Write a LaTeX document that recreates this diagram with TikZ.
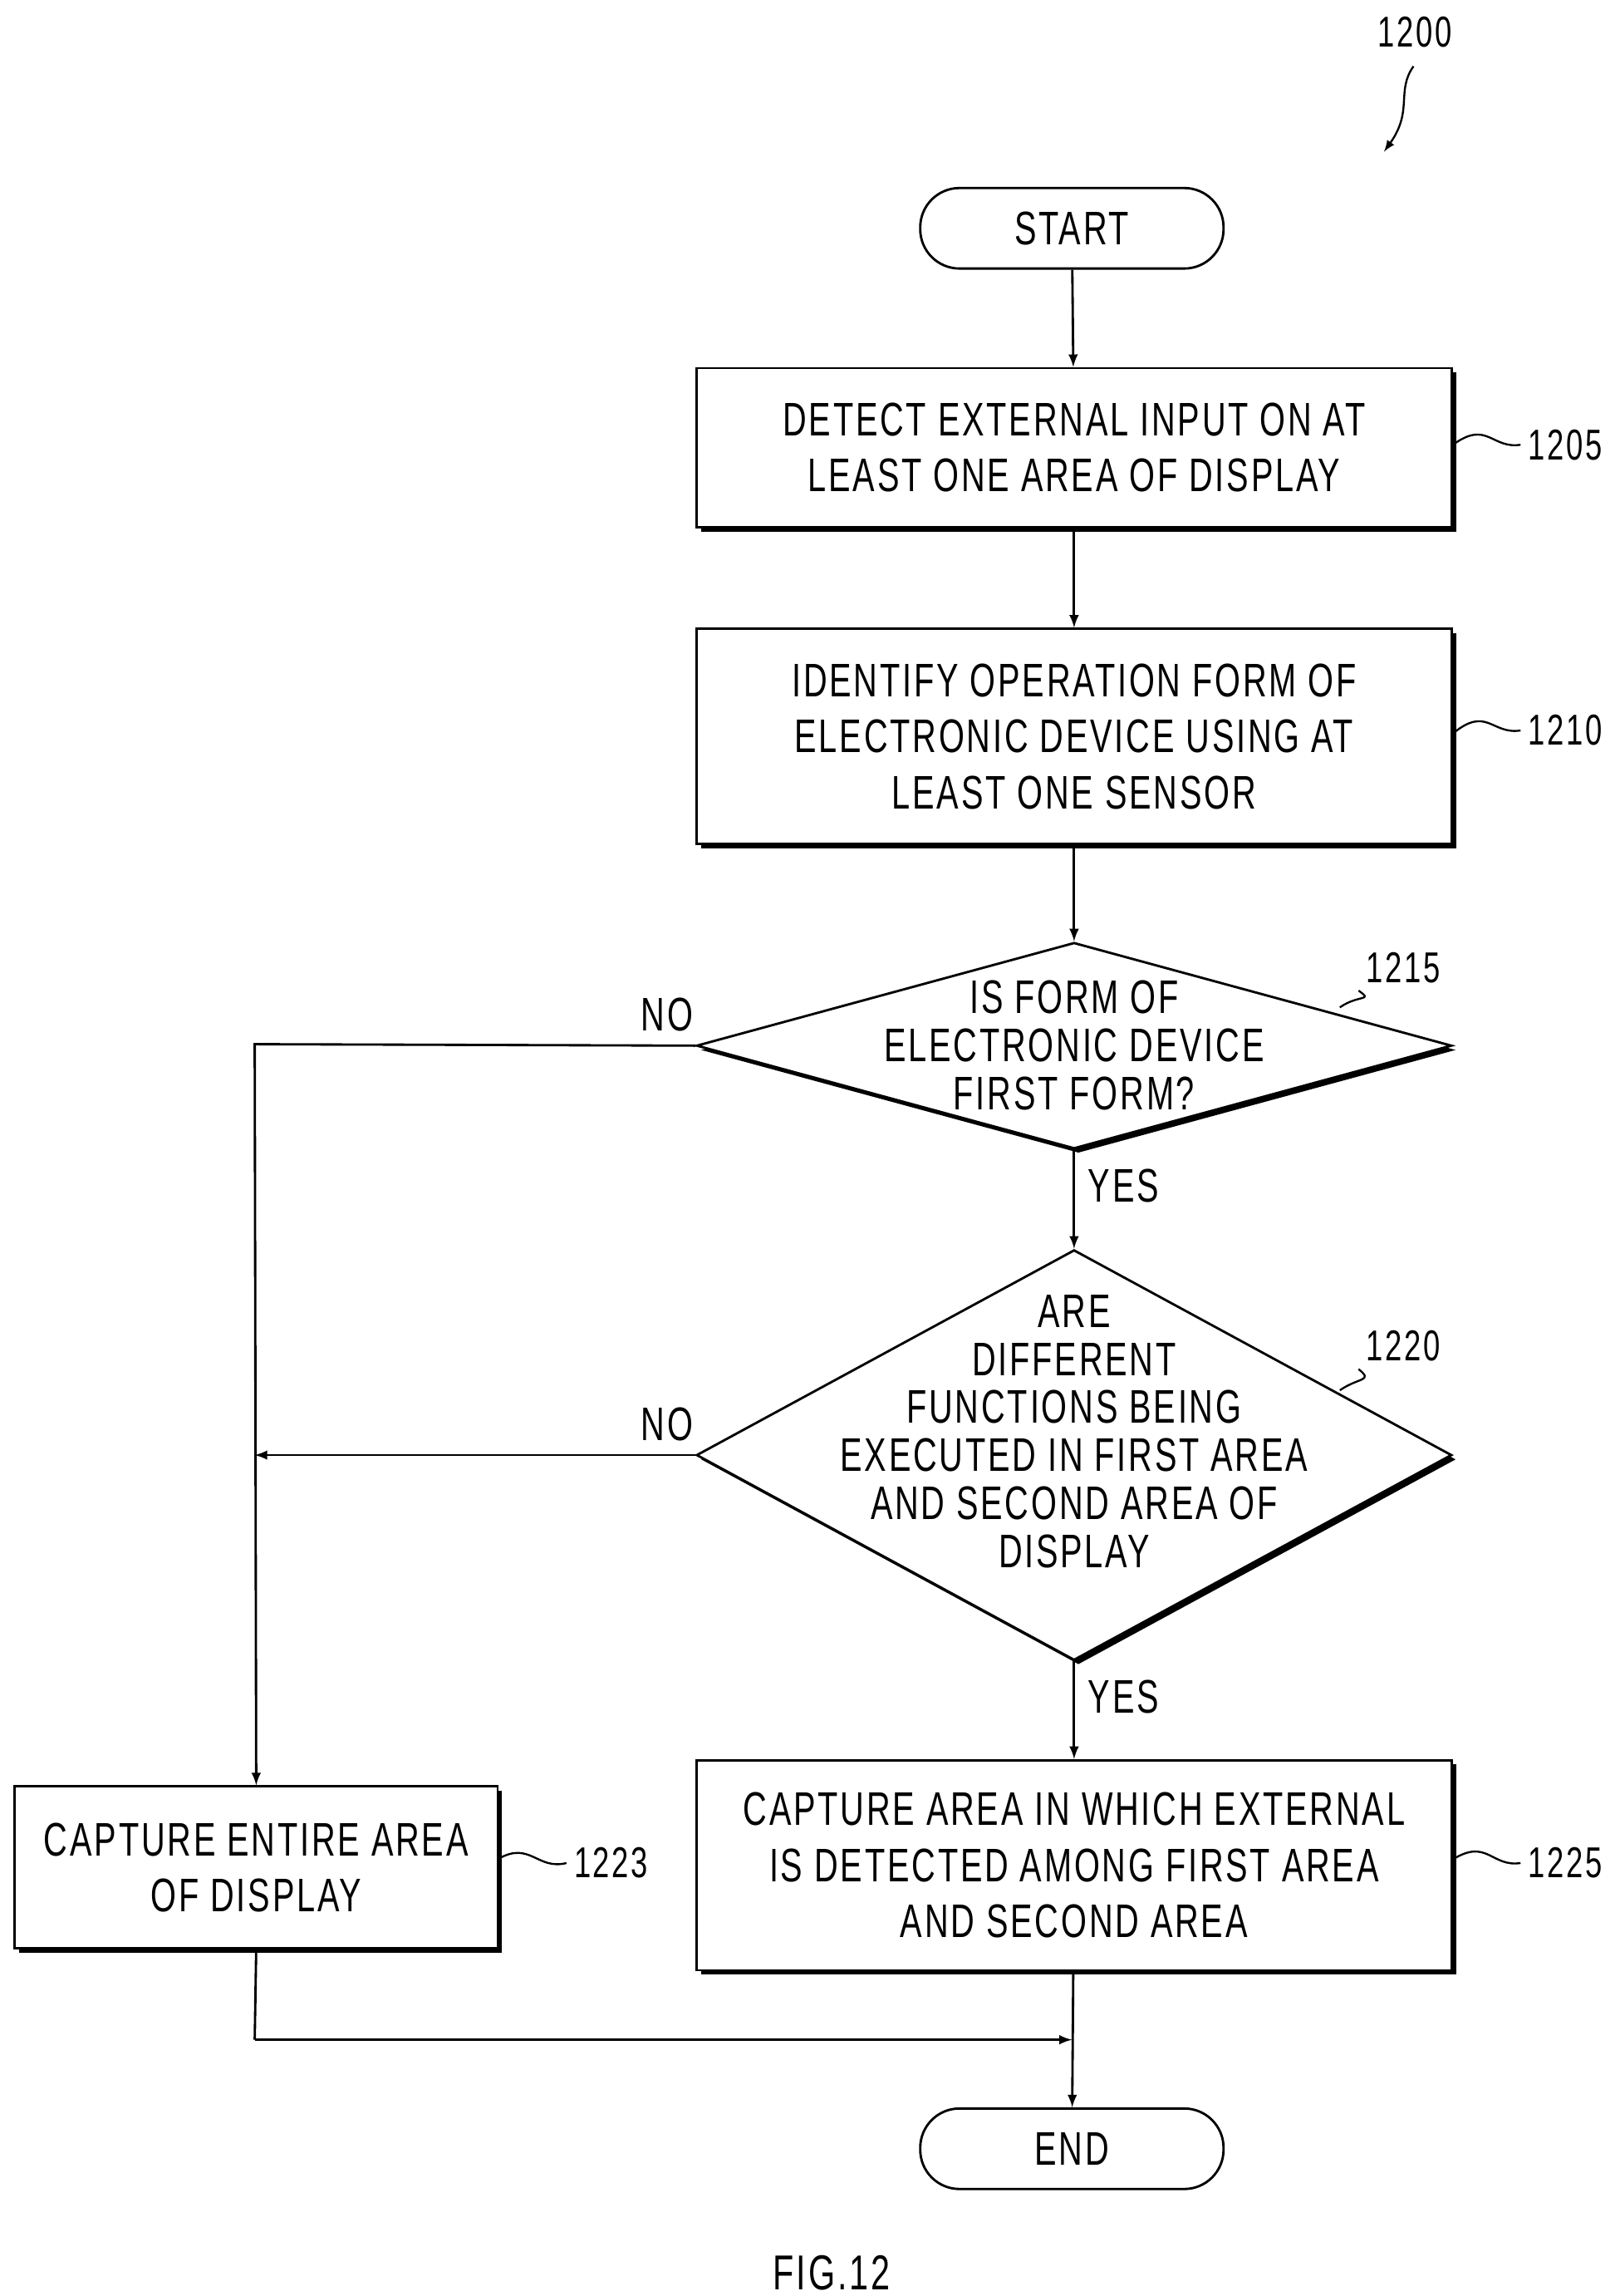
\documentclass[tikz,border=0pt]{standalone}
\usepackage{fontspec}
\setmainfont{Liberation Sans}[FakeStretch=0.7,LetterSpace=5]
\usetikzlibrary{shapes.geometric,shadows}
\tikzset{every picture/.style={line width=1.2pt}}
\tikzset{
  shade box/.style={drop shadow={shadow xshift=2.2pt,shadow yshift=-2.2pt,fill=black,opacity=1}},
  proc/.style={draw,fill=white,shade box,inner sep=0pt,align=center,font=\fontsize{24}{28.5}\selectfont},
  term/.style={draw,fill=white,rounded corners=20pt,inner sep=0pt,minimum width=154.5pt,minimum height=41pt,font=\fontsize{24}{28}\selectfont},
  test/.style={draw,fill=white,shade box,diamond,inner sep=0pt,minimum width=384.75pt},
  tag/.style={font=\fontsize{22}{26}\selectfont},
  flow/.style={-latex},
}
\begin{document}
\begin{tikzpicture}[x=0.75pt,y=0.75pt,yscale=-1,xscale=1]
		\useasboundingbox (2,0) rectangle (1102,1559);
		
		% terminals
		\node [term] (start) at (730,155) {START};
		\node [term] (end) at (730,1459) {END};
		
		% steps
		\node [proc,minimum width=384.75pt,minimum height=81pt] (s1205) at (731.5,304) {DETECT EXTERNAL INPUT ON AT\\LEAST ONE AREA OF DISPLAY};
		\node [proc,minimum width=384.75pt,minimum height=109.5pt] (s1210) at (731.5,500) {IDENTIFY OPERATION FORM OF\\ELECTRONIC DEVICE USING AT\\LEAST ONE SENSOR};
		\node [proc,minimum width=246pt,minimum height=82.5pt] (s1223) at (176,1268) {CAPTURE ENTIRE AREA\\OF DISPLAY};
		\node [proc,minimum width=384.75pt,minimum height=107pt] (s1225) at (731.5,1266.5) {CAPTURE AREA IN WHICH EXTERNAL\\IS DETECTED AMONG FIRST AREA\\AND SECOND AREA};
		
		% decisions
		\node [test,minimum height=105pt] (d1215) at (731.5,710) {};
		\node [align=center,font=\fontsize{24}{24.5}\selectfont] at (731.5,710) {IS FORM OF\\ELECTRONIC DEVICE\\FIRST FORM?};
		\node [test,minimum height=209pt] (d1220) at (731.5,988) {};
		\node [align=center,font=\fontsize{24}{24.5}\selectfont] at (731.5,972) {ARE\\DIFFERENT\\FUNCTIONS BEING\\EXECUTED IN FIRST AREA\\AND SECOND AREA OF\\DISPLAY};
		
		% junction points
		\coordinate (c1) at (175,709);
		\coordinate (c2) at (175,988);
		\coordinate (c3) at (175,1385);
		\coordinate (c4) at (730,1385);
		
		% connectors
		\draw [flow] (start) -- (s1205);
		\draw [flow] (s1205) -- (s1210);
		\draw [flow] (s1210) -- (d1215.north);
		\draw [flow] (d1215.south) -- (d1220.north);
		\draw [flow] (d1220.south) -- (s1225);
		\draw [flow] (s1225) -- (end);
		\draw [flow] (d1215.west) -- (c1) -- (s1223.north);
		\draw [flow] (d1220.west) -- (c2);
		\draw (s1223.south) -- (c3);
		\draw [flow] (c3) -- (c4);
		
		% branch labels
		\node [tag,font=\fontsize{24}{28}\selectfont] (no1) at (455,689) {NO};
		\node [tag,font=\fontsize{24}{28}\selectfont] (yes1) at (765,805) {YES};
		\node [tag,font=\fontsize{24}{28}\selectfont] (no2) at (455,967) {NO};
		\node [tag,font=\fontsize{24}{28}\selectfont] (yes2) at (765,1152) {YES};
		
		% reference numerals
		\node [tag] (r1200) at (963,22) {1200};
		\draw [-latex,line width=1pt] (962,45) .. controls (950,62) and (962,75) .. (942,103);
		\node [tag] (r1205) at (1065,302) {1205};
		\draw [line width=1pt] (s1205.east) ++(0,-2) .. controls (1012,285) and (1015,305) .. (r1205.west);
		\node [tag] (r1210) at (1065,496) {1210};
		\draw [line width=1pt] (s1210.east) ++(0,-2) .. controls (1012,479) and (1015,499) .. (r1210.west);
		\node [tag] (r1215) at (955,657) {1215};
		\draw [line width=1pt] (912,684) .. controls (925,675) and (935,680) .. (r1215.south west);
		\node [tag] (r1220) at (955,914) {1220};
		\draw [line width=1pt] (912,944) .. controls (925,935) and (935,938) .. (r1220.south west);
		\node [tag] (r1223) at (417,1265) {1223};
		\draw [line width=1pt] (s1223.east) ++(0,-6) .. controls (362,1250) and (367,1270) .. (r1223.west);
		\node [tag] (r1225) at (1065,1265) {1225};
		\draw [line width=1pt] (s1225.east) ++(0,-4) .. controls (1012,1248) and (1015,1268) .. (r1225.west);
		
		% figure caption
		\node [font=\fontsize{25}{30}\selectfont] (fig) at (567,1543) {FIG.12};
\end{tikzpicture}
\end{document}
